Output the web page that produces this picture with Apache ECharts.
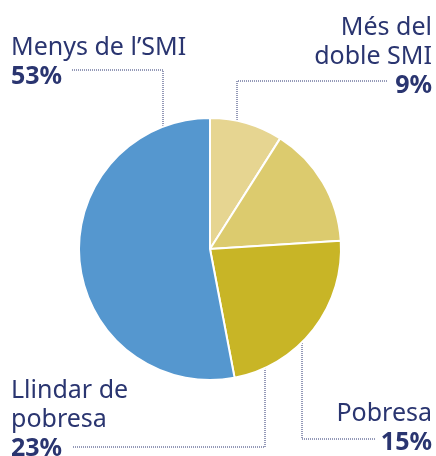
<!DOCTYPE html>
<html>
<head>
<meta charset="utf-8">
<script src="https://cdn.jsdelivr.net/npm/echarts@6/dist/echarts.min.js"></script>
<style>html,body{margin:0;padding:0;background:#fff;}#c{width:436px;height:456px;}</style>
</head>
<body>
<div id="c"></div>
<script>
var categories = ['Més del\ndoble SMI', 'Pobresa', 'Llindar de\npobresa', "Menys de l’SMI"];
var values = [9, 15, 23, 53];
var colors = ['#e6d591', '#dccb6e', '#c8b526', '#5597cf'];

var navy = '#2a3570';
// label layout: anchor, alignment, leader line (start inside slice, corner, end at label)
var layouts = [
  { x: 432, y: 100, align: 'right', pts: [[237, 158], [237, 81], [387, 81]] },
  { x: 432, y: 457, align: 'right', pts: [[302, 227], [302, 439], [375, 439]] },
  { x: 11, y: 463, align: 'left', pts: [[265, 360], [265, 447], [72, 447]] },
  { x: 11, y: 91, align: 'left', pts: [[163, 168], [163, 70], [71, 70]] }
];

var chart = echarts.init(document.getElementById('c'), null, { renderer: 'canvas' });
chart.setOption({
  animation: false,
  series: [{
    type: 'pie',
    center: [210, 249],
    radius: 131,
    startAngle: 90,
    clockwise: true,
    silent: true,
    itemStyle: { borderColor: '#fff', borderWidth: 2 },
    data: categories.map(function (c, i) {
      return { name: c, value: values[i], itemStyle: { color: colors[i] } };
    }),
    label: {
      show: true,
      position: 'outside',
      overflow: 'none',
      formatter: function (p) { return '{n|' + p.name.split('\n').join('}\n{n|') + '}\n{p|' + p.value + '%}'; },
      rich: {
        n: { fontFamily: 'Noto Sans', fontSize: 25, color: navy, lineHeight: 29 },
        p: { fontFamily: 'Noto Sans', fontSize: 25, fontWeight: 'bold', color: navy, lineHeight: 29 }
      }
    },
    labelLine: {
      show: true,
      smooth: false,
      lineStyle: { color: navy, width: 1, type: [1, 1] }
    },
    labelLayout: function (params) {
      var l = layouts[params.dataIndex];
      return { x: l.x, y: l.y, align: l.align, verticalAlign: 'bottom', labelLinePoints: l.pts };
    }
  }]
});
</script>
</body>
</html>
